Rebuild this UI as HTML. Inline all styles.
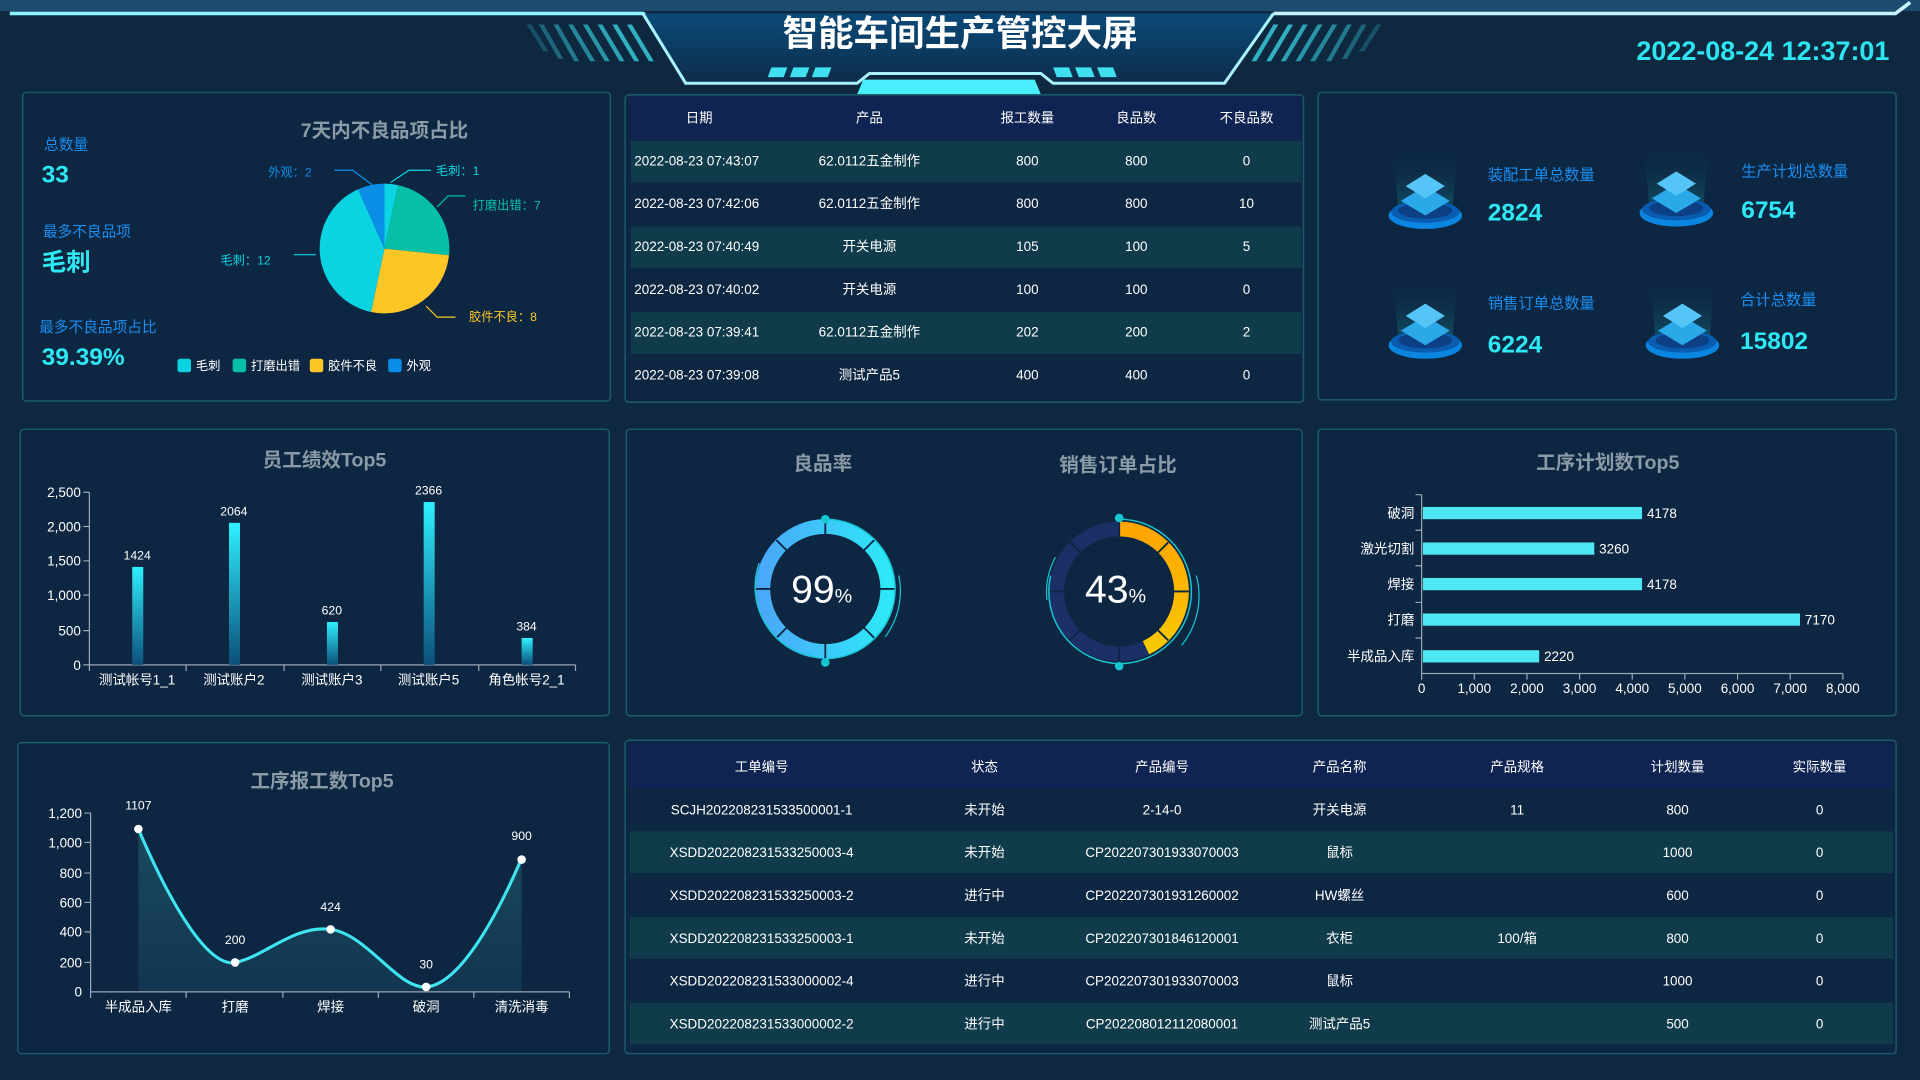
<!DOCTYPE html>
<html><head><meta charset="utf-8"><style>
html,body{margin:0;padding:0;background:#0e2840;overflow:hidden}
svg{display:block}
text{font-family:"Liberation Sans","Noto Sans CJK SC",sans-serif}
</style></head><body>
<svg width="1920" height="1080" viewBox="0 0 1568 882" xmlns="http://www.w3.org/2000/svg">
<defs>
<linearGradient id="hdr" x1="0" y1="0" x2="0" y2="1"><stop offset="0" stop-color="#0a4a78"/><stop offset="1" stop-color="#0e2c4a"/></linearGradient>
<linearGradient id="bar" x1="0" y1="0" x2="0" y2="1"><stop offset="0" stop-color="#2ff0ff"/><stop offset="1" stop-color="#0c4f7a"/></linearGradient>
<linearGradient id="g1" x1="0" y1="0" x2="1" y2="0"><stop offset="0" stop-color="#4aa8f8"/><stop offset="1" stop-color="#2ee8f8"/></linearGradient>
<linearGradient id="g2" x1="0" y1="0" x2="0" y2="1"><stop offset="0" stop-color="#ffa500"/><stop offset="1" stop-color="#f8c800"/></linearGradient>
<linearGradient id="area" x1="0" y1="0" x2="0" y2="1"><stop offset="0" stop-color="#1a4a5e"/><stop offset="1" stop-color="#123650"/></linearGradient>
<linearGradient id="beam" x1="0" y1="0" x2="0" y2="1"><stop offset="0" stop-color="#0e2840" stop-opacity="0"/><stop offset="1" stop-color="#11667a"/></linearGradient>
<g id="ico">
<path d="M-26,-40 L26,-40 L22,8 L-22,8Z" fill="url(#beam)" opacity="0.7"/>
<ellipse cx="0" cy="12" rx="30" ry="11" fill="#0a86e0"/>
<ellipse cx="0" cy="9" rx="28" ry="9" fill="#0a5cb0"/>
<ellipse cx="0" cy="8" rx="22" ry="6.5" fill="#0c3f84"/>
<path d="M0,-12 L20,0 L0,12 L-20,0Z" fill="#2aa8e8"/>
<path d="M0,-22 L16,-12 L0,-2 L-16,-12Z" fill="#55c4f6"/>
</g>
</defs>
<rect width="1568" height="882" fill="#0e2840"/>
<!-- header -->
<rect x="0" y="0" width="1568" height="9" fill="#1b4b6e"/>
<path d="M8,11 L525,11 L530,14" stroke="#8ef4ff" stroke-width="3" fill="none"/>
<path d="M1560,2 L1548,11 L1040,11" stroke="#c6f2ff" stroke-width="3" fill="none"/>
<path d="M525,11 L560,68 L700,68 L710,60 L850,60 L860,68 L1000,68 L1040,11Z" fill="url(#hdr)"/>
<path d="M525,11 L560,68 L700,68 L710,60 L850,60 L860,68 L1000,68 L1040,11" stroke="#a8f4ff" stroke-width="2.5" fill="none"/>
<path d="M700,80 L850,80 L845,68 L705,68Z" fill="#48eefc" transform="translate(0,-3)"/>
<g fill="#3fe0f0"><path d="M630,55h13l-3,8h-13z"/><path d="M648,55h13l-3,8h-13z"/><path d="M666,55h13l-3,8h-13z"/><path d="M860,55h13l3,8h-13z"/><path d="M878,55h13l3,8h-13z"/><path d="M896,55h13l3,8h-13z"/></g>
<g fill="#36c8d8" opacity="0.85"><path d="M430,20h4l14,22h-4z" opacity=".3"/><path d="M440,20h4l16,28h-4z" opacity=".45"/><path d="M452,20h4l17,30h-4z" opacity=".6"/><path d="M464,20h4l18,30h-4z" opacity=".7"/><path d="M476,20h4l18,30h-4z" opacity=".8"/><path d="M488,20h4l18,30h-4z" opacity=".9"/><path d="M500,20h4l18,30h-4z"/><path d="M512,20h4l18,30h-4z"/>
<path d="M1124,20h4l-14,22h-4z" opacity=".3"/><path d="M1112,20h4l-16,28h-4z" opacity=".45"/><path d="M1100,20h4l-17,30h-4z" opacity=".6"/><path d="M1088,20h4l-18,30h-4z" opacity=".7"/><path d="M1076,20h4l-18,30h-4z" opacity=".8"/><path d="M1064,20h4l-18,30h-4z" opacity=".9"/><path d="M1052,20h4l-18,30h-4z"/><path d="M1040,20h4l-18,30h-4z"/></g>
<text x="784" y="37" text-anchor="middle" font-size="29" font-weight="bold" fill="#fff">智能车间生产管控大屏</text>
<text x="1543" y="49" text-anchor="end" font-size="22" font-weight="bold" fill="#2de4f0">2022-08-24 12:37:01</text>

<!-- panels -->
<g fill="#0d2742" stroke="#1d5a6e" stroke-width="1.2">
<rect x="18.5" y="75.5" width="480" height="252" rx="3"/>
<rect x="510.5" y="77.5" width="554" height="251" rx="3"/>
<rect x="1076.5" y="75.5" width="472" height="251" rx="3"/>
<rect x="16.5" y="350.5" width="481" height="234" rx="3"/>
<rect x="511.5" y="350.5" width="552" height="234" rx="3"/>
<rect x="1076.5" y="350.5" width="472" height="234" rx="3"/>
<rect x="14.5" y="606.5" width="483" height="254" rx="3"/>
<rect x="510.5" y="604.5" width="1038" height="256" rx="3"/>
</g>

<!-- P1 -->
<text x="36" y="122" font-size="12" fill="#1a8ef0">总数量</text>
<text x="34" y="149" font-size="20" font-weight="bold" fill="#2ee8f4">33</text>
<text x="35" y="193" font-size="12" fill="#1a8ef0">最多不良品项</text>
<text x="34" y="221" font-size="20" font-weight="bold" fill="#2ee8f4">毛刺</text>
<text x="32" y="271" font-size="12" fill="#1a8ef0">最多不良品项占比</text>
<text x="34" y="298" font-size="20" font-weight="bold" fill="#2ee8f4">39.39%</text>
<text x="314" y="112" text-anchor="middle" font-size="16" font-weight="bold" fill="#8a9aa6">7天内不良品项占比</text>
<path d="M314,203 L314,150 A53,53 0 0 1 325,151.2Z" fill="#0cd3e2"/>
<path d="M314,203 L325,151.2 A53,53 0 0 1 366.7,208.5Z" fill="#05c0a6"/>
<path d="M314,203 L366.7,208.5 A53,53 0 0 1 303,254.8Z" fill="#fcc726"/>
<path d="M314,203 L303,254.8 A53,53 0 0 1 292.4,154.6Z" fill="#0cd3e2"/>
<path d="M314,203 L292.4,154.6 A53,53 0 0 1 314,150Z" fill="#0a8ee8"/>
<g fill="none" stroke-width="1"><path d="M319,149 L334,139 L352,139" stroke="#0cd3e2"/><path d="M273,139 L288,139 L304,151" stroke="#0a8ee8"/><path d="M357,169 L366,160 L380,160" stroke="#05c0a6"/><path d="M258,208 L240,208" stroke="#0cd3e2"/><path d="M348,250 L357,259 L372,259" stroke="#fcc726"/></g>
<g font-size="10"><text x="356" y="143" fill="#0cd3e2">毛刺：1</text><text x="219" y="144" fill="#0a8ee8">外观：2</text><text x="386" y="171" fill="#05c0a6">打磨出错：7</text><text x="180" y="216" fill="#0cd3e2">毛刺：12</text><text x="383" y="262" fill="#fcc726">胶件不良：8</text></g>
<g font-size="10" fill="#fff"><rect x="145" y="293" width="11" height="11" rx="2" fill="#0cd3e2"/><text x="160" y="302">毛刺</text><rect x="190" y="293" width="11" height="11" rx="2" fill="#05c0a6"/><text x="205" y="302">打磨出错</text><rect x="253" y="293" width="11" height="11" rx="2" fill="#fcc726"/><text x="268" y="302">胶件不良</text><rect x="317" y="293" width="11" height="11" rx="2" fill="#0a8ee8"/><text x="332" y="302">外观</text></g>

<!-- table1 -->
<rect x="515" y="79" width="548" height="36" fill="#0f2452"/>
<g fill="#0f3b4a"><rect x="515" y="115" width="548" height="34"/><rect x="515" y="185" width="548" height="34"/><rect x="515" y="255" width="548" height="34"/></g>
<g font-size="11" fill="#fff" text-anchor="middle">
<text x="571" y="100">日期</text><text x="710" y="100">产品</text><text x="839" y="100">报工数量</text><text x="928" y="100">良品数</text><text x="1018" y="100">不良品数</text>
<g><text x="518" y="135" text-anchor="start">2022-08-23 07:43:07</text><text x="710" y="135">62.0112五金制作</text><text x="839" y="135">800</text><text x="928" y="135">800</text><text x="1018" y="135">0</text></g>
<g><text x="518" y="170" text-anchor="start">2022-08-23 07:42:06</text><text x="710" y="170">62.0112五金制作</text><text x="839" y="170">800</text><text x="928" y="170">800</text><text x="1018" y="170">10</text></g>
<g><text x="518" y="205" text-anchor="start">2022-08-23 07:40:49</text><text x="710" y="205">开关电源</text><text x="839" y="205">105</text><text x="928" y="205">100</text><text x="1018" y="205">5</text></g>
<g><text x="518" y="240" text-anchor="start">2022-08-23 07:40:02</text><text x="710" y="240">开关电源</text><text x="839" y="240">100</text><text x="928" y="240">100</text><text x="1018" y="240">0</text></g>
<g><text x="518" y="275" text-anchor="start">2022-08-23 07:39:41</text><text x="710" y="275">62.0112五金制作</text><text x="839" y="275">202</text><text x="928" y="275">200</text><text x="1018" y="275">2</text></g>
<g><text x="518" y="310" text-anchor="start">2022-08-23 07:39:08</text><text x="710" y="310">测试产品5</text><text x="839" y="310">400</text><text x="928" y="310">400</text><text x="1018" y="310">0</text></g>
</g>

<!-- KPI -->
<use href="#ico" x="1164" y="164"/><use href="#ico" x="1369" y="162"/><use href="#ico" x="1164" y="270"/><use href="#ico" x="1374" y="270"/>
<g font-size="12.5" fill="#1a8ef0"><text x="1215" y="147">装配工单总数量</text><text x="1422" y="144">生产计划总数量</text><text x="1215" y="252">销售订单总数量</text><text x="1421" y="249">合计总数量</text></g>
<g font-size="20" font-weight="bold" fill="#2ee8f4"><text x="1215" y="180">2824</text><text x="1422" y="178">6754</text><text x="1215" y="288">6224</text><text x="1421" y="285">15802</text></g>

<!-- bar chart -->
<text x="265" y="381" text-anchor="middle" font-size="16" font-weight="bold" fill="#8a9aa6">员工绩效Top5</text>
<g font-size="11" fill="#fff" text-anchor="end"><text x="66" y="406">2,500</text><text x="66" y="434">2,000</text><text x="66" y="462">1,500</text><text x="66" y="490">1,000</text><text x="66" y="519">500</text><text x="66" y="547">0</text></g>
<path d="M73,402 V543 M68,543 H470 M73,543v5 M152,543v5 M232,543v5 M311,543v5 M391,543v5 M470,543v5 M68,402h5 M68,430h5 M68,458h5 M68,486h5 M68,515h5" stroke="#9aa6b2" stroke-width="1" fill="none"/>
<g fill="url(#bar)"><rect x="108" y="463" width="9" height="80"/><rect x="187" y="427" width="9" height="116"/><rect x="267" y="508" width="9" height="35"/><rect x="346" y="410" width="9" height="133"/><rect x="426" y="521" width="9" height="22"/></g>
<g font-size="10" fill="#fff" text-anchor="middle"><text x="112" y="457">1424</text><text x="191" y="421">2064</text><text x="271" y="502">620</text><text x="350" y="404">2366</text><text x="430" y="515">384</text></g>
<g font-size="11" fill="#fff" text-anchor="middle"><text x="112" y="559">测试帐号1_1</text><text x="191" y="559">测试账户2</text><text x="271" y="559">测试账户3</text><text x="350" y="559">测试账户5</text><text x="430" y="559">角色帐号2_1</text></g>

<!-- gauges -->
<text x="672" y="384" text-anchor="middle" font-size="16" font-weight="bold" fill="#8a9aa6">良品率</text>
<text x="913" y="385" text-anchor="middle" font-size="16" font-weight="bold" fill="#8a9aa6">销售订单占比</text>
<circle cx="674" cy="481" r="51" fill="none" stroke="url(#g1)" stroke-width="12"/>
<g stroke="#0d2742" stroke-width="1.5"><path d="M674,424v20 M674,518v20 M617,481h20 M711,481h20 M634,441l12,12 M702,509l12,12 M714,441l-12,12 M646,509l-12,12"/></g>
<path d="M674,424 A57,57 0 0 1 731,481 A57,57 0 0 1 674,538" fill="none" stroke="#18c6d2" stroke-width="1.2"/>
<path d="M669,537 A58,58 0 0 1 620,460" fill="none" stroke="#18c6d2" stroke-width="1.2"/>
<path d="M734,470 A62,62 0 0 1 723,520" fill="none" stroke="#18c6d2" stroke-width="1"/>
<circle cx="674" cy="424" r="3.5" fill="#18c6d2"/><circle cx="674" cy="541" r="3.5" fill="#18c6d2"/>
<text x="671" y="492" text-anchor="middle" font-size="32" fill="#fff">99<tspan font-size="16">%</tspan></text>

<circle cx="914" cy="483" r="51" fill="none" stroke="#1a3066" stroke-width="12"/>
<path d="M914,432 A51,51 0 0 1 935.9,529" fill="none" stroke="url(#g2)" stroke-width="12"/>
<g stroke="#0d2742" stroke-width="1.5"><path d="M914,426v20 M914,520v20 M857,483h20 M951,483h20 M874,443l12,12 M942,511l12,12 M954,443l-12,12 M886,511l-12,12"/></g>
<path d="M914,424 A59,59 0 0 1 914,542 A59,59 0 0 1 858,470" fill="none" stroke="#18c6d2" stroke-width="1.2"/>
<path d="M977,470 A64,64 0 0 1 965,527" fill="none" stroke="#18c6d2" stroke-width="1"/>
<path d="M855,490 A60,60 0 0 1 862,455" fill="none" stroke="#18c6d2" stroke-width="1"/>
<circle cx="914" cy="423" r="3.5" fill="#18c6d2"/><circle cx="914" cy="544" r="3.5" fill="#18c6d2"/>
<text x="911" y="492" text-anchor="middle" font-size="32" fill="#fff">43<tspan font-size="16">%</tspan></text>

<!-- hbar -->
<text x="1313" y="383" text-anchor="middle" font-size="16" font-weight="bold" fill="#8a9aa6">工序计划数Top5</text>
<path d="M1161,404 V550 H1505 M1161,550v5 M1204,550v5 M1247,550v5 M1290,550v5 M1333,550v5 M1376,550v5 M1419,550v5 M1462,550v5 M1505,550v5 M1156,404h5 M1156,433h5 M1156,462h5 M1156,492h5 M1156,521h5" stroke="#9aa6b2" stroke-width="1" fill="none"/>
<g fill="#4de8f4"><rect x="1162" y="414" width="179" height="10"/><rect x="1162" y="443" width="140" height="10"/><rect x="1162" y="472" width="179" height="10"/><rect x="1162" y="501" width="308" height="10"/><rect x="1162" y="531" width="95" height="10"/></g>
<g font-size="11" fill="#fff"><text x="1345" y="423">4178</text><text x="1306" y="452">3260</text><text x="1345" y="481">4178</text><text x="1474" y="510">7170</text><text x="1261" y="540">2220</text></g>
<g font-size="11" fill="#fff" text-anchor="end"><text x="1155" y="423">破洞</text><text x="1155" y="452">激光切割</text><text x="1155" y="481">焊接</text><text x="1155" y="510">打磨</text><text x="1155" y="540">半成品入库</text></g>
<g font-size="11" fill="#fff" text-anchor="middle"><text x="1161" y="566">0</text><text x="1204" y="566">1,000</text><text x="1247" y="566">2,000</text><text x="1290" y="566">3,000</text><text x="1333" y="566">4,000</text><text x="1376" y="566">5,000</text><text x="1419" y="566">6,000</text><text x="1462" y="566">7,000</text><text x="1505" y="566">8,000</text></g>

<!-- line chart -->
<text x="263" y="643" text-anchor="middle" font-size="16" font-weight="bold" fill="#8a9aa6">工序报工数Top5</text>
<path d="M113,677 C140,740 170,790 192,786 C215,782 240,755 270,759 C300,763 325,808 348,806 C375,804 405,750 426,701 L426,810 L113,810Z" fill="url(#area)"/>
<path d="M113,677 C140,740 170,790 192,786 C215,782 240,755 270,759 C300,763 325,808 348,806 C375,804 405,750 426,701" fill="none" stroke="#3fe6f2" stroke-width="2.5"/>
<g fill="#fff"><circle cx="113" cy="677" r="3.5"/><circle cx="192" cy="786" r="3.5"/><circle cx="270" cy="759" r="3.5"/><circle cx="348" cy="806" r="3.5"/><circle cx="426" cy="702" r="3.5"/></g>
<g font-size="10" fill="#fff" text-anchor="middle"><text x="113" y="661">1107</text><text x="192" y="771">200</text><text x="270" y="744">424</text><text x="348" y="791">30</text><text x="426" y="686">900</text></g>
<path d="M74,664 V810 H465 M74,810v5 M152,810v5 M231,810v5 M309,810v5 M387,810v5 M465,810v5 M69,664h5 M69,688h5 M69,713h5 M69,737h5 M69,761h5 M69,786h5" stroke="#9aa6b2" stroke-width="1" fill="none"/>
<g font-size="11" fill="#fff" text-anchor="end"><text x="67" y="668">1,200</text><text x="67" y="692">1,000</text><text x="67" y="717">800</text><text x="67" y="741">600</text><text x="67" y="765">400</text><text x="67" y="790">200</text><text x="67" y="814">0</text></g>
<g font-size="11" fill="#fff" text-anchor="middle"><text x="113" y="826">半成品入库</text><text x="192" y="826">打磨</text><text x="270" y="826">焊接</text><text x="348" y="826">破洞</text><text x="426" y="826">清洗消毒</text></g>

<!-- table2 -->
<rect x="514" y="607" width="1032" height="37" fill="#0f2452"/>
<g fill="#0f3b4a"><rect x="514" y="679" width="1032" height="34"/><rect x="514" y="749" width="1032" height="34"/><rect x="514" y="819" width="1032" height="34"/></g>
<g font-size="11" fill="#fff" text-anchor="middle">
<text x="622" y="630">工单编号</text><text x="804" y="630">状态</text><text x="949" y="630">产品编号</text><text x="1094" y="630">产品名称</text><text x="1239" y="630">产品规格</text><text x="1370" y="630">计划数量</text><text x="1486" y="630">实际数量</text>
<text x="622" y="665">SCJH202208231533500001-1</text><text x="804" y="665">未开始</text><text x="949" y="665">2-14-0</text><text x="1094" y="665">开关电源</text><text x="1239" y="665">11</text><text x="1370" y="665">800</text><text x="1486" y="665">0</text>
<text x="622" y="700">XSDD202208231533250003-4</text><text x="804" y="700">未开始</text><text x="949" y="700">CP202207301933070003</text><text x="1094" y="700">鼠标</text><text x="1370" y="700">1000</text><text x="1486" y="700">0</text>
<text x="622" y="735">XSDD202208231533250003-2</text><text x="804" y="735">进行中</text><text x="949" y="735">CP202207301931260002</text><text x="1094" y="735">HW螺丝</text><text x="1370" y="735">600</text><text x="1486" y="735">0</text>
<text x="622" y="770">XSDD202208231533250003-1</text><text x="804" y="770">未开始</text><text x="949" y="770">CP202207301846120001</text><text x="1094" y="770">衣柜</text><text x="1239" y="770">100/箱</text><text x="1370" y="770">800</text><text x="1486" y="770">0</text>
<text x="622" y="805">XSDD202208231533000002-4</text><text x="804" y="805">进行中</text><text x="949" y="805">CP202207301933070003</text><text x="1094" y="805">鼠标</text><text x="1370" y="805">1000</text><text x="1486" y="805">0</text>
<text x="622" y="840">XSDD202208231533000002-2</text><text x="804" y="840">进行中</text><text x="949" y="840">CP202208012112080001</text><text x="1094" y="840">测试产品5</text><text x="1370" y="840">500</text><text x="1486" y="840">0</text>
</g>
</svg>
</body></html>
